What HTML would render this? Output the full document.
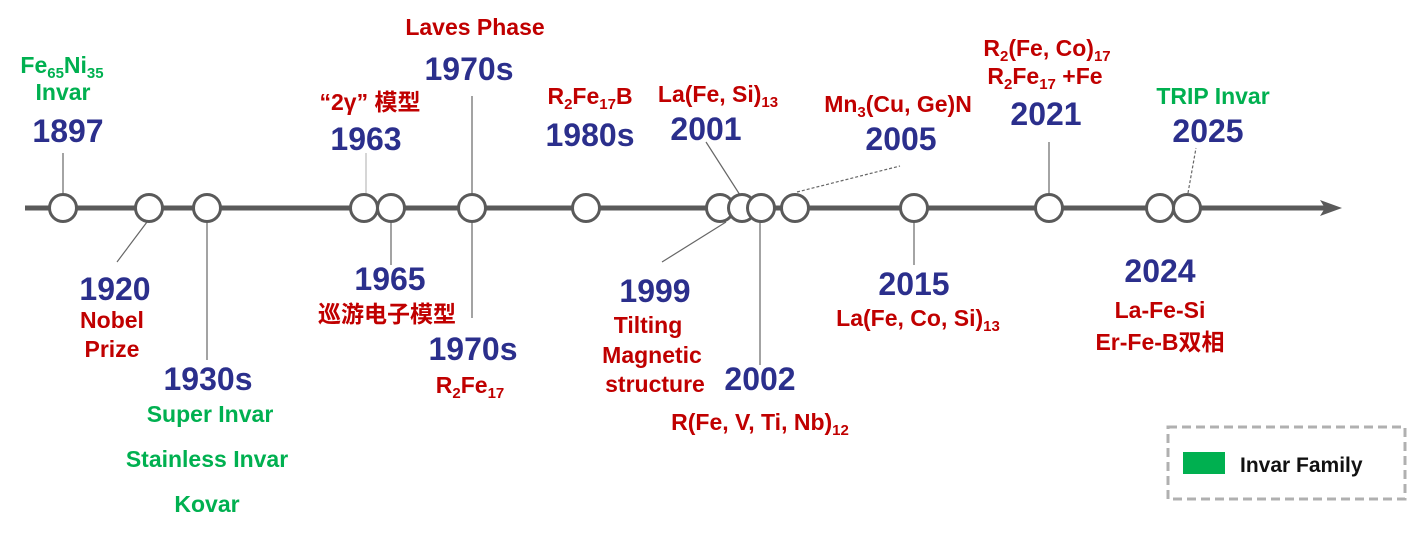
<!DOCTYPE html>
<html><head><meta charset="utf-8"><style>
html,body{margin:0;padding:0;background:#fff;}
svg{display:block;}
text{font-family:"Liberation Sans","Noto Sans CJK SC",sans-serif;font-weight:bold;text-anchor:middle;}
.y{fill:#2b2f8c;font-size:32px;}
.r{fill:#c00000;font-size:23px;}
.g{fill:#00b050;font-size:23px;}
.s{font-size:15px;}
</style></head><body>
<svg width="1418" height="537" viewBox="0 0 1418 537" xmlns="http://www.w3.org/2000/svg">
<line x1="25" y1="208" x2="1330" y2="208" stroke="#5a5a5a" stroke-width="5"/>
<polygon points="1342,208 1320,200 1325,208 1320,216" fill="#5a5a5a"/>
<g stroke="#666" stroke-width="1.2" fill="none">
<line x1="63" y1="153" x2="63" y2="195"/>
<line x1="147" y1="222" x2="117" y2="262"/>
<line x1="207" y1="222" x2="207" y2="360"/>
<line x1="366" y1="153" x2="366" y2="195" stroke="#bbb"/>
<line x1="391" y1="222" x2="391" y2="265"/>
<line x1="472" y1="96" x2="472" y2="195"/>
<line x1="472" y1="222" x2="472" y2="318"/>
<line x1="706" y1="142" x2="740" y2="195"/>
<line x1="726" y1="222" x2="662" y2="262"/>
<line x1="760" y1="222" x2="760" y2="365"/>
<line x1="797" y1="192" x2="900" y2="166" stroke-dasharray="3,2"/>
<line x1="914" y1="222" x2="914" y2="265"/>
<line x1="1049" y1="142" x2="1049" y2="195"/>
<line x1="1188" y1="193" x2="1196" y2="148" stroke-dasharray="3,2"/>
</g>
<g fill="#fff" stroke="#5a5a5a" stroke-width="3">
<circle cx="63" cy="208" r="13.5"/><circle cx="149" cy="208" r="13.5"/><circle cx="207" cy="208" r="13.5"/>
<circle cx="364" cy="208" r="13.5"/><circle cx="391" cy="208" r="13.5"/><circle cx="472" cy="208" r="13.5"/>
<circle cx="586" cy="208" r="13.5"/><circle cx="720" cy="208" r="13.5"/><circle cx="742" cy="208" r="13.5"/>
<circle cx="761" cy="208" r="13.5"/><circle cx="795" cy="208" r="13.5"/><circle cx="914" cy="208" r="13.5"/>
<circle cx="1049" cy="208" r="13.5"/><circle cx="1160" cy="208" r="13.5"/><circle cx="1187" cy="208" r="13.5"/>
</g>
<text class="g" x="62" y="73">Fe<tspan class="s" dy="5">65</tspan><tspan dy="-5">Ni</tspan><tspan class="s" dy="5">35</tspan></text>
<text class="g" x="63" y="100">Invar</text>
<text class="y" x="68" y="142">1897</text>
<text class="r" x="475" y="35">Laves Phase</text>
<text class="y" x="469" y="80">1970s</text>
<text class="r" x="370" y="110">“2γ” 模型</text>
<text class="y" x="366" y="150">1963</text>
<text class="r" x="590" y="104">R<tspan class="s" dy="5">2</tspan><tspan dy="-5">Fe</tspan><tspan class="s" dy="5">17</tspan><tspan dy="-5">B</tspan></text>
<text class="y" x="590" y="146">1980s</text>
<text class="r" x="718" y="102">La(Fe, Si)<tspan class="s" dy="5">13</tspan></text>
<text class="y" x="706" y="140">2001</text>
<text class="r" x="898" y="112">Mn<tspan class="s" dy="5">3</tspan><tspan dy="-5">(Cu, Ge)N</tspan></text>
<text class="y" x="901" y="150">2005</text>
<text class="r" x="1047" y="56">R<tspan class="s" dy="5">2</tspan><tspan dy="-5">(Fe, Co)</tspan><tspan class="s" dy="5">17</tspan></text>
<text class="r" x="1045" y="84">R<tspan class="s" dy="5">2</tspan><tspan dy="-5">Fe</tspan><tspan class="s" dy="5">17</tspan><tspan dy="-5"> +Fe</tspan></text>
<text class="y" x="1046" y="125">2021</text>
<text class="g" x="1213" y="104">TRIP Invar</text>
<text class="y" x="1208" y="142">2025</text>
<text class="y" x="115" y="300">1920</text>
<text class="r" x="112" y="328">Nobel</text>
<text class="r" x="112" y="357">Prize</text>
<text class="y" x="208" y="390">1930s</text>
<text class="g" x="210" y="422">Super Invar</text>
<text class="g" x="207" y="467">Stainless Invar</text>
<text class="g" x="207" y="512">Kovar</text>
<text class="y" x="390" y="290">1965</text>
<text class="r" x="387" y="322">巡游电子模型</text>
<text class="y" x="473" y="360">1970s</text>
<text class="r" x="470" y="393">R<tspan class="s" dy="5">2</tspan><tspan dy="-5">Fe</tspan><tspan class="s" dy="5">17</tspan></text>
<text class="y" x="655" y="302">1999</text>
<text class="r" x="648" y="333">Tilting</text>
<text class="r" x="652" y="363">Magnetic</text>
<text class="r" x="655" y="392">structure</text>
<text class="y" x="760" y="390">2002</text>
<text class="r" x="760" y="430">R(Fe, V, Ti, Nb)<tspan class="s" dy="5">12</tspan></text>
<text class="y" x="914" y="295">2015</text>
<text class="r" x="918" y="326">La(Fe, Co, Si)<tspan class="s" dy="5">13</tspan></text>
<text class="y" x="1160" y="282">2024</text>
<text class="r" x="1160" y="318">La-Fe-Si</text>
<text class="r" x="1160" y="350">Er-Fe-B双相</text>
<rect x="1168" y="427" width="237" height="72" fill="none" stroke="#b0b0b0" stroke-width="3" stroke-dasharray="9,5"/>
<rect x="1183" y="452" width="42" height="22" fill="#00b050"/>
<text x="1240" y="472" style="text-anchor:start;font-size:21px;fill:#111;">Invar Family</text>
</svg>
</body></html>
